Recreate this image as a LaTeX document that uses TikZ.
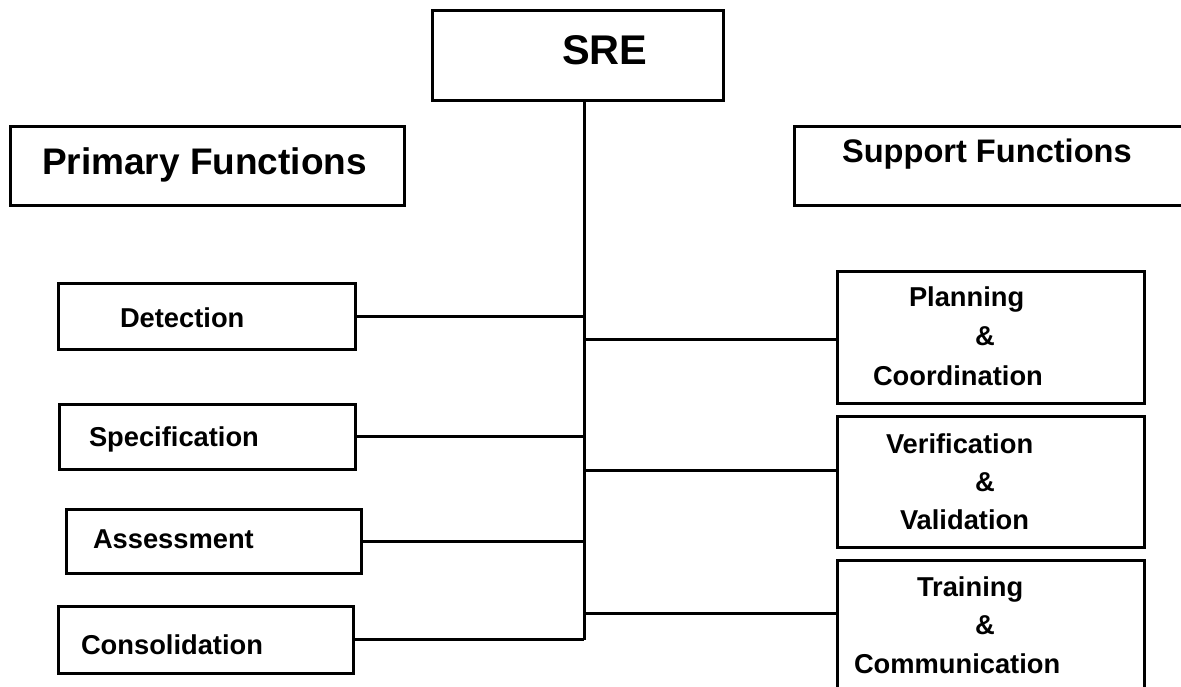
\documentclass[tikz,border=0pt]{standalone}
\usepackage{fontspec}
\setmainfont{Liberation Sans}
\begin{document}
\begin{tikzpicture}[x=1pt,y=-1pt,
  box/.style={draw=black,line width=3pt,fill=white,rectangle,inner sep=0pt,outer sep=0pt,anchor=north west},
  conn/.style={draw=black,line width=3pt},
  lbl/.style={inner sep=0pt,outer sep=0pt,anchor=base west,font=\bfseries\fontsize{27.3}{30}\selectfont},
  big/.style={inner sep=0pt,outer sep=0pt,anchor=base west,font=\bfseries\fontsize{41.5}{46}\selectfont},
  head/.style={inner sep=0pt,outer sep=0pt,anchor=base west,font=\bfseries\fontsize{37}{40}\selectfont},
  heads/.style={inner sep=0pt,outer sep=0pt,anchor=base west,font=\bfseries\fontsize{32.6}{36}\selectfont}]
\useasboundingbox (0,0) rectangle (1181,687);
\clip (0,0) rectangle (1181,687);
\fill[white] (0,0) rectangle (1181,687);

% boxes
\node[box,minimum width=291pt,minimum height=90pt] (sre) at (432,11) {};
\node[box,minimum width=394pt,minimum height=79pt] (prim) at (10,127) {};
\node[box,minimum width=400pt,minimum height=79pt] (supp) at (794,127) {};
\node[box,minimum width=297pt,minimum height=66pt] (det) at (58,283) {};
\node[box,minimum width=296pt,minimum height=65pt] (spec) at (59,404) {};
\node[box,minimum width=295pt,minimum height=64pt] (ass) at (66,509) {};
\node[box,minimum width=295pt,minimum height=67pt] (cons) at (58,606) {};
\node[box,minimum width=307pt,minimum height=131pt] (plan) at (837,272) {};
\node[box,minimum width=307pt,minimum height=131pt] (ver) at (837,416) {};
\node[box,minimum width=307pt,minimum height=140pt] (tra) at (837,560) {};

% texts
\node[big] (tsre) at (562,65) {SRE};
\node[head] (tprim) at (42,175) {Primary Functions};
\node[heads] (tsupp) at (842,163) {Support Functions};
\node[lbl] (tdet) at (120,327) {Detection};
\node[lbl] (tspec) at (89,446) {Specification};
\node[lbl] (tass) at (93,548) {Assessment};
\node[lbl] (tcons) at (81,654) {Consolidation};
\node[lbl] (tplan1) at (909,306) {Planning};
\node[lbl] (tplan2) at (975,345) {\&};
\node[lbl] (tplan3) at (873,385) {Coordination};
\node[lbl] (tver1) at (886,453) {Verification};
\node[lbl] (tver2) at (975,491) {\&};
\node[lbl] (tver3) at (900,529) {Validation};
\node[lbl] (ttra1) at (917,596) {Training};
\node[lbl] (ttra2) at (975,634) {\&};
\node[lbl] (ttra3) at (854,673) {Communication};

% connectors
\coordinate (trunk) at (584,101);
\draw[conn] (trunk) -- (trunk |- cons.east);
\draw[conn] (det.east) -- (det.east -| trunk);
\draw[conn] (spec.east) -- (spec.east -| trunk);
\draw[conn] (ass.east) -- (ass.east -| trunk);
\draw[conn] (cons.east) -- (cons.east -| trunk);
\coordinate (yplan) at (0,339);
\coordinate (yver) at (0,470);
\coordinate (ytra) at (0,613);
\draw[conn] (trunk |- yplan) -- (plan.west |- yplan);
\draw[conn] (trunk |- yver) -- (ver.west |- yver);
\draw[conn] (trunk |- ytra) -- (tra.west |- ytra);
\end{tikzpicture}
\end{document}
